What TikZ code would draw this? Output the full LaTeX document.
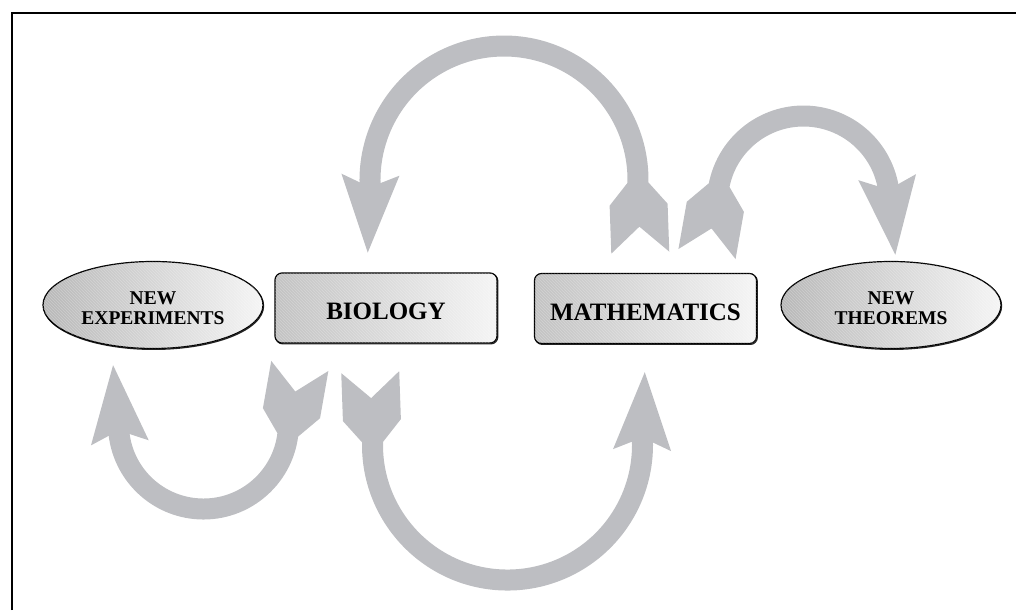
\documentclass[tikz,border=0pt]{standalone}
\usepackage{fontspec}
\setmainfont{Liberation Serif}
\usetikzlibrary{shapes.geometric,shadows,patterns}
\definecolor{arrowgray}{RGB}{189,190,194}
\tikzset{
  shaft/.style={draw=arrowgray, line width=21pt},
  headpic/.pic={\fill[arrowgray] (-2,10.5) -- (-10,29) -- (68,0) -- (-10,-29) -- (-2,-10.5) -- cycle;},
  tailpic/.pic={\fill[arrowgray] (-2,10.5) -- (20,29) -- (68,29) -- (42,0) -- (68,-29) -- (20,-29) -- (-2,-10.5) -- cycle;},
  texture/.style={postaction={pattern=north west lines, pattern color=white, opacity=0.25}},
  topic/.style={draw=black, line width=1.2pt, rounded corners=7pt,
    minimum width=222pt, minimum height=70pt, inner sep=0pt,
    left color=black!24, right color=black!4, texture,
    general shadow={draw=black!85, line width=1.2pt, shadow xshift=0.8pt, shadow yshift=-0.9pt},
    font=\fontsize{25}{28}\selectfont\bfseries, text height=24pt, text depth=0pt},
  outcome/.style={ellipse, draw=black, line width=1.2pt,
    minimum width=220pt, minimum height=87pt, inner sep=0pt,
    left color=black!28, right color=black!4, texture,
    general shadow={draw=black!85, line width=1.2pt, shadow xshift=0.6pt, shadow yshift=-0.9pt},
    font=\fontsize{19.5}{20}\selectfont\bfseries, align=center},
}
\begin{document}
\begin{tikzpicture}[x=1pt,y=1pt]
\useasboundingbox (0,0) rectangle (1016,610);
% frame
\draw[line width=2pt] (12,0) -- (12,597) -- (1016,597);

% nodes
\node[outcome] (exp) at (153,305) {\rule{0pt}{19pt}NEW\\EXPERIMENTS};
\node[topic] (bio) at (386,302) {BIOLOGY};
\node[topic] (math) at (645.5,301.5) {MATHEMATICS};
\node[outcome] (thm) at (891,305) {\rule{0pt}{19pt}NEW\\THEOREMS};

% arrow ends
\coordinate (a1t) at (637.9,425.3);
\coordinate (a1h) at (370.1,425.3);
\coordinate (a2t) at (718.8,422.9);
\coordinate (a2h) at (888.2,422.9);
\coordinate (a3t) at (288.0,177.1);
\coordinate (a3h) at (119.0,177.1);
\coordinate (a4t) at (372.6,169.9);
\coordinate (a4h) at (642.4,169.9);

% arrow 1: mathematics -> biology (top, large)
\draw[shaft] (a1t) arc[start angle=-2, end angle=182, radius=134pt];
\pic[rotate=-88] at (a1t) {tailpic};
\pic[rotate=-92] at (a1h) {headpic};

% arrow 2: mathematics -> new theorems (top, small)
\draw[shaft] (a2t) arc[start angle=170, end angle=10, radius=86pt];
\pic[rotate=-100] at (a2t) {tailpic};
\pic[rotate=-84] at (a2h) {headpic};

% arrow 3: biology -> new experiments (bottom, small)
\draw[shaft] (a3t) arc[start angle=-6, end angle=-174, radius=85pt];
\pic[rotate=80] at (a3t) {tailpic};
\pic[rotate=95] at (a3h) {headpic};

% arrow 4: biology -> mathematics (bottom, large)
\draw[shaft] (a4t) arc[start angle=177.9, end angle=362.1, radius=135pt];
\pic[rotate=92] at (a4t) {tailpic};
\pic[rotate=88] at (a4h) {headpic};
\end{tikzpicture}
\end{document}
